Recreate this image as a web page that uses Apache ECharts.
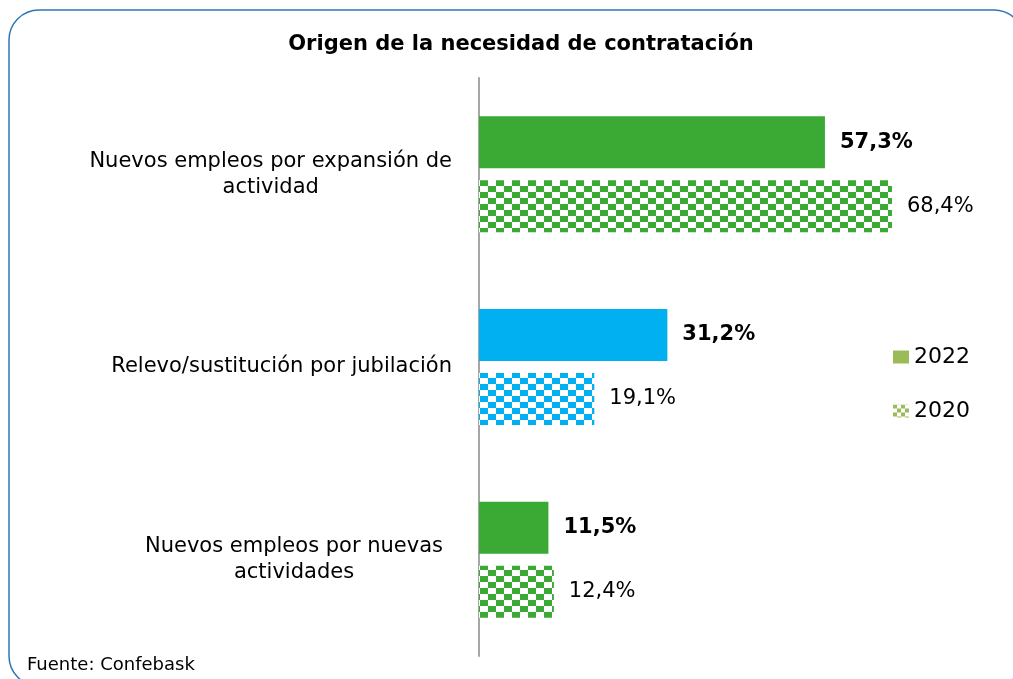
<!DOCTYPE html>
<html>
<head>
<meta charset="utf-8">
<script src="https://cdn.jsdelivr.net/npm/echarts@6/dist/echarts.min.js"></script>
<style>
html,body{margin:0;padding:0;background:#fff;}
#chart{width:1013px;height:679px;}
</style>
</head>
<body>
<div id="chart"></div>
<script>
var categories = ['Nuevos empleos por expansión de\nactividad', 'Relevo/sustitución por jubilación', 'Nuevos empleos por nuevas\nactividades'];
var seriesNames = ['2022', '2020'];
var values2022 = [57.3, 31.2, 11.5];
var values2020 = [68.4, 19.1, 12.4];
var barColors = ['#3aaa35', '#00b0f0', '#3aaa35'];
var titleText = 'Origen de la necesidad de contratación';
var sourceText = 'Fuente: Confebask';

function checker(color, cw, ch) {
  var c = document.createElement('canvas');
  c.width = cw * 2; c.height = ch * 2;
  var g = c.getContext('2d');
  g.fillStyle = '#ffffff';
  g.fillRect(0, 0, c.width, c.height);
  g.fillStyle = color;
  g.fillRect(0, 0, cw, ch);
  g.fillRect(cw, ch, cw, ch);
  return { image: c, repeat: 'repeat' };
}

var legendColor = '#9bbb59';
var fmtNum = function (v) { return v.toFixed(1).replace('.', ',') + '%'; };

var chart = echarts.init(document.getElementById('chart'), null, { renderer: 'canvas' });
var lblFont = 'DejaVu Sans';

var option = {
  animation: false,
  backgroundColor: '#ffffff',
  textStyle: { fontFamily: lblFont },
  title: {
    text: titleText,
    left: 516, top: 29, textAlign: 'center',
    textStyle: { fontFamily: lblFont, fontSize: 21, fontWeight: 'bold', color: '#000' }
  },
  graphic: [
    {
      type: 'rect', shape: { x: 9, y: 10, width: 1015, height: 676, r: 30 },
      style: { fill: 'none', stroke: '#2f75b5', lineWidth: 1.5 }, silent: true, z: -1
    },
    {
      type: 'text', left: 27, top: 656,
      style: { text: sourceText, font: '18px "DejaVu Sans"', fill: '#000' }
    }
  ],
  legend: {
    orient: 'vertical', left: 888, top: 341,
    itemWidth: 16, itemHeight: 13, itemGap: 32,
    icon: 'rect',
    textStyle: { fontSize: 22, color: '#000', fontFamily: lblFont },
    data: seriesNames
  },
  grid: { left: 479, top: 78, bottom: 23, width: 483, containLabel: false },
  xAxis: { type: 'value', min: 0, max: 80, show: false },
  yAxis: {
    type: 'category', inverse: true, data: categories,
    axisLine: { show: true, lineStyle: { color: '#a6a6a6', width: 2 } },
    axisTick: { show: false },
    splitLine: { show: false },
    axisLabel: {
      margin: 27, color: '#000', fontSize: 21, fontFamily: lblFont, lineHeight: 26,
      formatter: function (v, i) {
        var lines = v.split('\n');
        if (lines.length === 1) return v;
        if (i === 0) return '{a|' + lines[0] + '}\n{b|' + lines[1] + '}';
        return '{c|' + lines[0] + '}\n{c|' + lines[1] + '}';
      },
      rich: {
        a: { fontSize: 21, fontFamily: lblFont, color: '#000', lineHeight: 26, align: 'right' },
        b: { fontSize: 21, fontFamily: lblFont, color: '#000', lineHeight: 26, width: 302, align: 'center' },
        c: { fontSize: 21, fontFamily: lblFont, color: '#000', lineHeight: 26, width: 316, align: 'center' }
      }
    }
  },
  series: [
    {
      name: seriesNames[0], type: 'bar', barWidth: 52, barGap: '23%',
      itemStyle: { color: legendColor },
      data: values2022.map(function (v, i) { return { value: v, itemStyle: { color: barColors[i] } }; }),
      label: {
        show: true, position: 'right', distance: 15, color: '#000',
        fontSize: 21, fontWeight: 'bold', fontFamily: lblFont,
        formatter: function (p) { return fmtNum(p.value); }
      }
    },
    {
      name: seriesNames[1], type: 'bar', barWidth: 52, barGap: '23%',
      itemStyle: { color: checker(legendColor, 4, 4) },
      data: values2020.map(function (v, i) { return { value: v, itemStyle: { color: checker(barColors[i], 8, 6) } }; }),
      label: {
        show: true, position: 'right', distance: 15, color: '#000',
        fontSize: 21, fontFamily: lblFont,
        formatter: function (p) { return fmtNum(p.value); }
      }
    }
  ]
};
chart.setOption(option);
</script>
</body>
</html>
